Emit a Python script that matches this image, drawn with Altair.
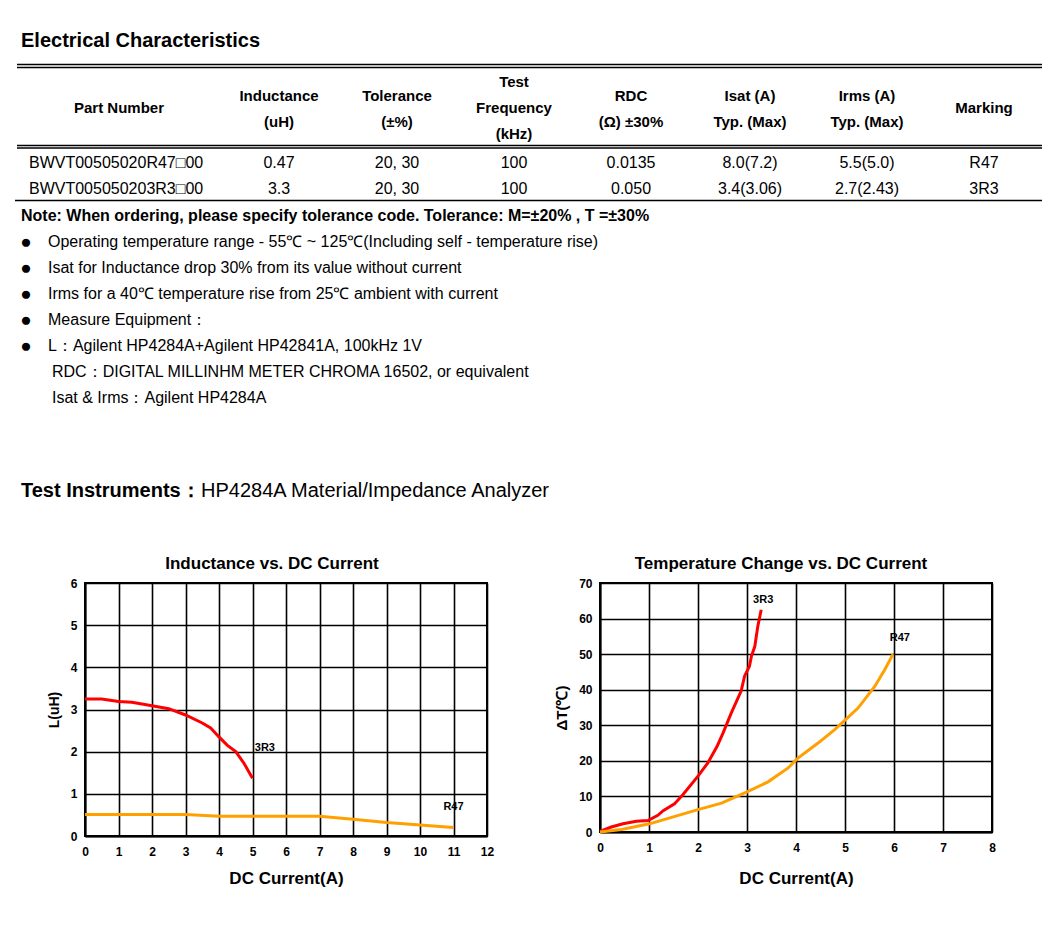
import altair as alt
import pandas as pd

FONT = "Liberation Sans"

# ---------------- table / text content ----------------
doc_title = "Electrical Characteristics"
headers = [["Part Number"], ["Inductance", "(uH)"], ["Tolerance", "(±%)"],
           ["Test", "Frequency", "(kHz)"], ["RDC", "(Ω) ±30%"],
           ["Isat (A)", "Typ. (Max)"], ["Irms (A)", "Typ. (Max)"], ["Marking"]]
part_numbers = ["BWVT00505020R47□00", "BWVT005050203R3□00"]
inductance = ["0.47", "3.3"]
tolerance = ["20, 30", "20, 30"]
test_freq = ["100", "100"]
rdc = ["0.0135", "0.050"]
isat = ["8.0(7.2)", "3.4(3.06)"]
irms = ["5.5(5.0)", "2.7(2.43)"]
marking = ["R47", "3R3"]
note = "Note: When ordering, please specify tolerance code. Tolerance: M=±20% , T =±30%"
bullets = ["Operating temperature range - 55℃ ~ 125℃(Including self - temperature rise)",
           "Isat for Inductance drop 30% from its value without current",
           "Irms for a 40℃  temperature rise from 25℃  ambient with current",
           "Measure Equipment：",
           "L：Agilent HP4284A+Agilent HP42841A, 100kHz 1V"]
extra_lines = ["RDC：DIGITAL MILLINHM METER CHROMA 16502, or equivalent",
               "Isat & Irms：Agilent HP4284A"]
instr_bold = "Test Instruments："
instr_text = "HP4284A Material/Impedance Analyzer"

# ---------------- chart data ----------------
ind_3r3_i = [0, 0.5, 1.0, 1.4, 2.0, 2.5, 3.0, 3.5, 3.75, 4.0, 4.25, 4.5, 4.75, 5.0]
ind_3r3_l = [3.25, 3.25, 3.19, 3.17, 3.09, 3.02, 2.87, 2.68, 2.56, 2.35, 2.15, 2.0, 1.72, 1.37]
ind_r47_i = [0, 3, 4, 7, 8, 9, 10, 11]
ind_r47_l = [0.51, 0.51, 0.47, 0.47, 0.40, 0.32, 0.26, 0.20]

tmp_3r3_i = [0, 0.23, 0.47, 0.74, 0.98, 1.18, 1.29, 1.52, 1.69, 2.0, 2.2, 2.39, 2.51,
             2.68, 2.88, 2.95, 3.05, 3.09, 3.16, 3.22, 3.29]
tmp_3r3_t = [0.2, 1.4, 2.3, 3.0, 3.2, 4.7, 6.0, 7.9, 10.5, 15.7, 19.4, 24.1, 27.8,
             33.5, 39.6, 43.8, 46.6, 49.4, 52.2, 57.8, 62.5]
tmp_r47_i = [0, 0.44, 1.01, 2.0, 2.48, 2.99, 3.43, 3.84, 4.04, 4.45, 4.79, 4.99, 5.27,
             5.61, 5.81, 5.98]
tmp_r47_t = [0, 0.7, 2.3, 6.3, 8.1, 11.2, 14.1, 18.0, 20.8, 25.0, 28.8, 31.3, 34.9,
             41.0, 45.6, 50.0]

series = ["3R3", "R47"]
colors = ["#ff0000", "#ffa000"]

# ---------------- layout (page pixels) ----------------
PLOT_L_X = 84      # page x of left plot's left edge (= origin of every row)
PAGE_TOP = 8       # page y of the top block origin
PLOT_TOP = 582     # page y of the plots' top edge
L_W, L_H = 402, 253
R_W, R_H = 392, 249
R_PLOT_X = 599     # page x of right plot's left edge

OX, OY = PLOT_L_X, PAGE_TOP
texts = []


def add(t, x, y, size, weight, align):
    texts.append(dict(t=t, px=x - OX, py=y - OY, size=size, weight=weight, align=align))


add(doc_title, 20, 40, 20, "bold", "left")
col_x = [118, 278, 396, 513, 630, 749, 866, 983]
header_y = {1: [107], 2: [95, 121], 3: [81, 107, 133]}
for cx, h in zip(col_x, headers):
    for line, yy in zip(h, header_y[len(h)]):
        add(line, cx, yy, 15, "bold", "center")
row_y = [162, 188]
for i, yy in enumerate(row_y):
    add(part_numbers[i], 28, yy, 16, "normal", "left")
    for cx, col in zip(col_x[1:], [inductance, tolerance, test_freq, rdc, isat, irms, marking]):
        add(col[i], cx, yy, 16, "normal", "center")
add(note, 20, 215, 16, "bold", "left")
for k, b in enumerate(bullets):
    yy = 241 + 26 * k
    add("●", 25, yy, 19, "normal", "center")
    add(b, 47, yy, 16, "normal", "left")
for k, b in enumerate(extra_lines):
    add(b, 51, 371 + 26 * k, 16, "normal", "left")
add(instr_bold, 20, 490, 20, "bold", "left")
add(instr_text, 200, 490, 20, "normal", "left")

tdf = pd.DataFrame(texts)
layers = []
for (w, a), g in tdf.groupby(["weight", "align"]):
    layers.append(
        alt.Chart(g).mark_text(font=FONT, fontWeight=w, align=a, baseline="middle", color="black")
        .encode(x=alt.X("px:Q", scale=None, axis=None),
                y=alt.Y("py:Q", scale=None, axis=None),
                size=alt.Size("size:Q", scale=None, legend=None),
                text="t:N")
    )

rules = pd.DataFrame([
    dict(x1=8 - OX, x2=1046 - OX, y=0, w=1, c="white"),
    dict(x1=16 - OX, x2=1041 - OX, y=63.5 - OY, w=1.3, c="black"),
    dict(x1=16 - OX, x2=1041 - OX, y=66.5 - OY, w=1.3, c="black"),
    dict(x1=16 - OX, x2=1041 - OX, y=144.5 - OY, w=1.3, c="black"),
    dict(x1=16 - OX, x2=1041 - OX, y=147 - OY, w=1.3, c="black"),
    dict(x1=14 - OX, x2=1041 - OX, y=199.5 - OY, w=1.3, c="black"),
])
rule_layer = alt.Chart(rules).mark_rule().encode(
    x=alt.X("x1:Q", scale=None, axis=None), x2="x2:Q",
    y=alt.Y("y:Q", scale=None, axis=None),
    strokeWidth=alt.StrokeWidth("w:Q", scale=None, legend=None),
    color=alt.Color("c:N", scale=None, legend=None))

top = alt.layer(rule_layer, *layers).properties(width=L_W, height=PLOT_TOP - PAGE_TOP)

# ---------------- charts ----------------
color_scale = alt.Scale(domain=series, range=colors)


def make_chart(xs, ys, xmax, ymax, ystep, title, ytitle, ytitle_size, labels, w, h, dx, xpad):
    df = pd.concat([pd.DataFrame({"x": xs[0], "y": ys[0], "part": series[0]}),
                    pd.DataFrame({"x": xs[1], "y": ys[1], "part": series[1]})])
    xsc = alt.Scale(domain=[0, xmax], nice=False)
    ysc = alt.Scale(domain=[0, ymax], nice=False)
    xaxis = alt.Axis(values=list(range(0, xmax + 1)), labelOverlap=False, titlePadding=xpad)
    yaxis = alt.Axis(values=list(range(0, ymax + 1, ystep)), labelOverlap=False,
                     titleFontSize=ytitle_size)
    lines = alt.Chart(df).mark_line(strokeWidth=3).encode(
        x=alt.X("x:Q", scale=xsc, title="DC Current(A)", axis=xaxis),
        y=alt.Y("y:Q", scale=ysc, title=ytitle, axis=yaxis),
        color=alt.Color("part:N", scale=color_scale, legend=None),
        detail="part:N",
    )
    ldf = pd.DataFrame({"lab": series, "x": labels[0], "y": labels[1]})
    lab = alt.Chart(ldf).mark_text(font=FONT, fontWeight="bold", fontSize=11,
                                   color="black", baseline="middle").encode(
        x=alt.X("x:Q", scale=xsc, title="DC Current(A)", axis=xaxis),
        y=alt.Y("y:Q", scale=ysc, title=ytitle, axis=yaxis),
        text="lab:N")
    return alt.layer(lines, lab).properties(
        width=w, height=h,
        title=alt.TitleParams(title, font=FONT, fontSize=17, fontWeight="bold",
                              color="black", offset=4, dx=dx),
        view=alt.ViewBackground(stroke="black", strokeWidth=2, strokeOpacity=1))


left = make_chart([ind_3r3_i, ind_r47_i], [ind_3r3_l, ind_r47_l], 12, 6, 1,
                  "Inductance vs. DC Current", "L(uH)", 14,
                  ([5.37, 11.0], [2.08, 0.69]), L_W, L_H, -14, 13)
right = make_chart([tmp_3r3_i, tmp_r47_i], [tmp_3r3_t, tmp_r47_t], 8, 70, 10,
                   "Temperature Change vs. DC Current", "ΔT(℃)", 15,
                   ([3.33, 6.12], [65.3, 54.4]), R_W, R_H, -15, 17)

row2 = alt.hconcat(left, right, spacing=R_PLOT_X - PLOT_L_X - L_W, bounds="flush")

chart = alt.vconcat(top, row2, spacing=0, bounds="flush").properties(padding=0).configure_view(
    strokeOpacity=0).configure_axis(
    labelFont=FONT, labelFontSize=12, labelFontWeight="bold", labelColor="black",
    labelFlush=False,
    titleFont=FONT, titleFontSize=17, titleFontWeight="bold", titleColor="black",
    gridColor="black", gridWidth=1.6, gridOpacity=1, domainColor="black",
    domainWidth=2, ticks=False).configure_axisY(
    labelPadding=8, titlePadding=9).configure_axisX(
    labelPadding=10)

chart.save("out.html", embed_options={"renderer": "svg", "actions": False})
